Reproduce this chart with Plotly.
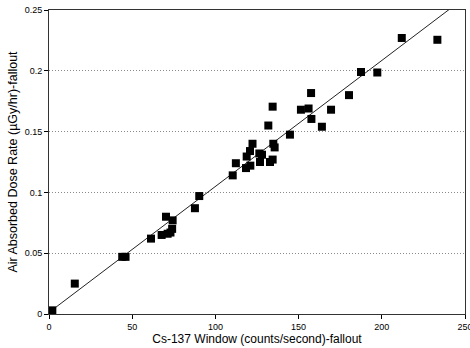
import plotly.graph_objects as go

# Cs-137 window count rate (counts/second) vs air absorbed dose rate (uGy/hr)
cs137_cps = [2, 15.5, 44, 46, 61.3, 67.7, 71.3, 73, 74, 70.3, 74.3, 87.7, 90.3,
             110.4, 112.3, 118.4, 121, 118.8, 120.8, 122.3, 126.4, 128, 126.8,
             132.8, 134.4, 134.8, 135.6, 131.8, 134.4, 144.8, 151.4, 156, 157.5,
             157.7, 164, 169.5, 180.3, 187.5, 197.3, 212, 233.4]
dose_rate = [0.003, 0.025, 0.047, 0.047, 0.062, 0.065, 0.066, 0.067, 0.070, 0.080,
             0.077, 0.087, 0.097, 0.114, 0.124, 0.120, 0.122, 0.1295, 0.134, 0.140,
             0.132, 0.131, 0.125, 0.125, 0.127, 0.140, 0.137, 0.155, 0.1705, 0.1475,
             0.168, 0.169, 0.1817, 0.1604, 0.154, 0.168, 0.180, 0.199, 0.1986,
             0.227, 0.2255]

# regression line parameters
fit_slope = 0.001036
fit_intercept = 0.0013
fit_x_range = [2, 242]

x_ticks = [0, 50, 100, 150, 200, 250]
y_ticks = [0, 0.05, 0.1, 0.15, 0.2, 0.25]
y_tick_labels = ["0", "0.05", "0.1", "0.15", "0.2", "0.25"]

fit_y = [fit_intercept + fit_slope * x for x in fit_x_range]

fig = go.Figure()
fig.add_trace(go.Scatter(x=fit_x_range, y=fit_y, mode="lines",
                         line=dict(color="#222222", width=1), hoverinfo="skip",
                         showlegend=False))
fig.add_trace(go.Scatter(x=cs137_cps, y=dose_rate, mode="markers",
                         marker=dict(symbol="square", size=8, color="black",
                                     line=dict(width=0)),
                         showlegend=False, cliponaxis=False))

font = "Liberation Sans, Arial, Helvetica, sans-serif"
fig.update_layout(
    width=470, height=348,
    margin=dict(l=49, r=5, t=10, b=34),
    paper_bgcolor="white", plot_bgcolor="white",
    font=dict(family=font, color="black", size=9),
    xaxis=dict(range=[0, 250], tickvals=x_ticks, ticks="outside", ticklen=4,
               tickwidth=1, tickcolor="black", showgrid=False, zeroline=False,
               showline=True, linecolor="#333333", linewidth=1, mirror=True,
               tickfont=dict(size=9), automargin=False,
               ticklabeloverflow="allow",
               title=dict(text="Cs-137 Window (counts/second)-fallout",
                          font=dict(size=12), standoff=0)),
    yaxis=dict(range=[0, 0.25], tickvals=y_ticks, ticktext=y_tick_labels,
               ticks="outside", ticklen=4, tickwidth=1, tickcolor="black",
               showgrid=True, gridcolor="#8a8a8a", griddash="1px,2px", gridwidth=1,
               zeroline=False, showline=True, linecolor="#333333", linewidth=1,
               mirror=True, tickfont=dict(size=9), automargin=False,
               ticklabeloverflow="allow",
               title=dict(text="Air Absorbed Dose Rate (µGy/hr)-fallout",
                          font=dict(size=12.5), standoff=4)),
)

fig.write_html("out.html", config={"displayModeBar": False},
               post_script="document.body.style.margin='0';"
                           "document.body.style.overflow='hidden';")
